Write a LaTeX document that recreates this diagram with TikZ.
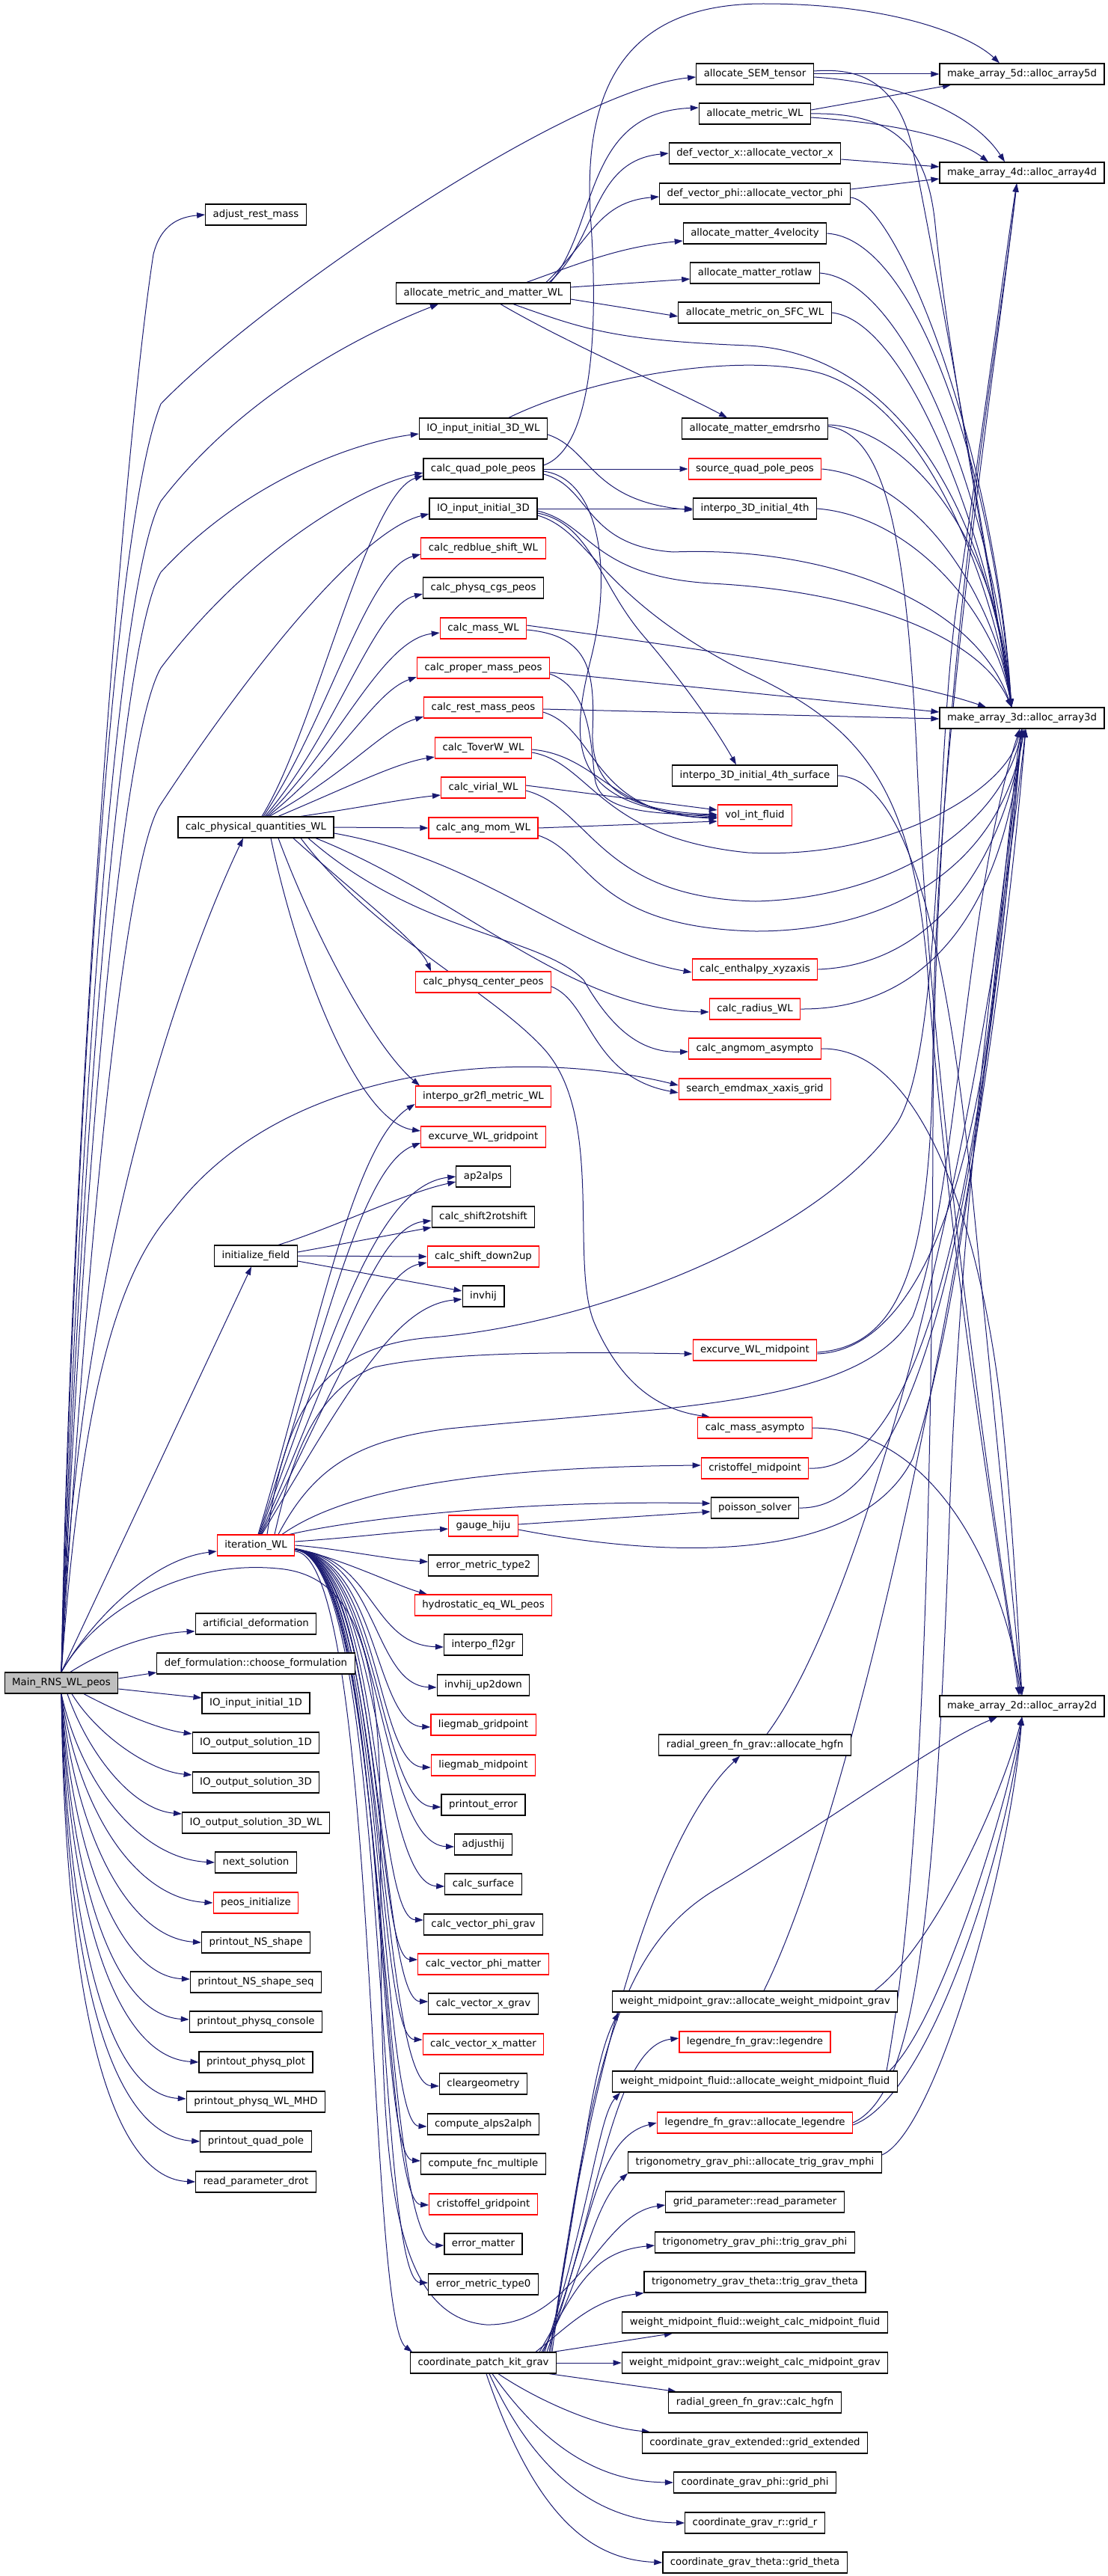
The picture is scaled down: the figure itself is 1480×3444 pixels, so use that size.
\documentclass[tikz,border=0pt]{standalone}
\usepackage{fontspec}
\newfontfamily\graphfont{DejaVu Sans}
\usepackage{tikz}
\usetikzlibrary{arrows.meta,backgrounds}
\definecolor{edgeblue}{RGB}{25,25,112}
\definecolor{mainfill}{RGB}{191,191,191}

\begin{document}
\begin{tikzpicture}[x=1pt, y=-1pt,
    fn/.style={draw=black, line width=1.2pt, fill=white, inner xsep=10pt, inner ysep=0pt,
      minimum height=28pt, text height=10pt, text depth=3pt,
      font=\graphfont\fontsize{13.3}{16}\selectfont},
    fnred/.style={fn, draw=red},
    call/.style={draw=edgeblue, line width=1pt, -{Triangle[length=11pt,width=7.5pt]}}]
    \useasboundingbox (0,0) rectangle (1480,3444);

    % Main program
    \node[fn, fill=mainfill] (main) at (82,2250) {Main\_RNS\_WL\_peos};

    % First level
    \node[fn] (adjrm) at (342,287) {adjust\_rest\_mass};
    \node[fn] (cpq) at (342,1106) {calc\_physical\_quantities\_WL};
    \node[fn] (inif) at (342,1679) {initialize\_field};
    \node[fnred] (itw) at (342,2066) {iteration\_WL};
    \node[fn] (artd) at (342,2171) {artificial\_deformation};
    \node[fn] (deff) at (342,2224) {def\_formulation::choose\_formulation};
    \node[fn] (ioi1) at (342,2277) {IO\_input\_initial\_1D};
    \node[fn] (ioo1) at (342,2330) {IO\_output\_solution\_1D};
    \node[fn] (ioo3) at (342,2383) {IO\_output\_solution\_3D};
    \node[fn] (ioo3w) at (342,2437) {IO\_output\_solution\_3D\_WL};
    \node[fn] (nsol) at (342,2490) {next\_solution};
    \node[fnred] (peosi) at (342,2544) {peos\_initialize};
    \node[fn] (pns) at (342,2597) {printout\_NS\_shape};
    \node[fn] (pnsseq) at (342,2650) {printout\_NS\_shape\_seq};
    \node[fn] (ppc) at (342,2703) {printout\_physq\_console};
    \node[fn] (ppp) at (342,2757) {printout\_physq\_plot};
    \node[fn] (ppmhd) at (342,2810) {printout\_physq\_WL\_MHD};
    \node[fn] (pqp) at (342,2863) {printout\_quad\_pole};
    \node[fn] (rpd) at (342,2917) {read\_parameter\_drot};

    % Second level
    \node[fn] (amm) at (646,392) {allocate\_metric\_and\_matter\_WL};
    \node[fn] (io3dwl) at (646,573) {IO\_input\_initial\_3D\_WL};
    \node[fn] (cqp) at (646,627) {calc\_quad\_pole\_peos};
    \node[fn] (io3d) at (646,680) {IO\_input\_initial\_3D};
    \node[fnred] (crb) at (646,733) {calc\_redblue\_shift\_WL};
    \node[fn] (cpcgs) at (646,786) {calc\_physq\_cgs\_peos};
    \node[fnred] (cmass) at (646,840) {calc\_mass\_WL};
    \node[fnred] (cpm) at (646,893) {calc\_proper\_mass\_peos};
    \node[fnred] (crm) at (646,946) {calc\_rest\_mass\_peos};
    \node[fnred] (ctw) at (646,1000) {calc\_ToverW\_WL};
    \node[fnred] (cvir) at (646,1053) {calc\_virial\_WL};
    \node[fnred] (cam) at (646,1107) {calc\_ang\_mom\_WL};
    \node[fnred] (cpc) at (646,1313) {calc\_physq\_center\_peos};
    \node[fnred] (igf) at (646,1466) {interpo\_gr2fl\_metric\_WL};
    \node[fnred] (exg) at (646,1520) {excurve\_WL\_gridpoint};
    \node[fn] (ap2) at (646,1573) {ap2alps};
    \node[fn] (css) at (646,1627) {calc\_shift2rotshift};
    \node[fnred] (csd) at (646,1680) {calc\_shift\_down2up};
    \node[fn] (invh) at (646,1733) {invhij};
    \node[fnred] (gauge) at (646,2040) {gauge\_hiju};
    \node[fn] (emt2) at (646,2093) {error\_metric\_type2};
    \node[fnred] (hyd) at (646,2146) {hydrostatic\_eq\_WL\_peos};
    \node[fn] (ifg) at (646,2199) {interpo\_fl2gr};
    \node[fn] (invud) at (646,2253) {invhij\_up2down};
    \node[fnred] (lgg) at (646,2306) {liegmab\_gridpoint};
    \node[fnred] (lgm) at (646,2360) {liegmab\_midpoint};
    \node[fn] (perr) at (646,2413) {printout\_error};
    \node[fn] (adjh) at (646,2466) {adjusthij};
    \node[fn] (csurf) at (646,2519) {calc\_surface};
    \node[fn] (cvpg) at (646,2573) {calc\_vector\_phi\_grav};
    \node[fnred] (cvpm) at (646,2626) {calc\_vector\_phi\_matter};
    \node[fn] (cvxg) at (646,2679) {calc\_vector\_x\_grav};
    \node[fnred] (cvxm) at (646,2733) {calc\_vector\_x\_matter};
    \node[fn] (clg) at (646,2786) {cleargeometry};
    \node[fn] (ca2a) at (646,2840) {compute\_alps2alph};
    \node[fn] (cfm) at (646,2893) {compute\_fnc\_multiple};
    \node[fnred] (crg) at (646,2947) {cristoffel\_gridpoint};
    \node[fn] (emat) at (646,3000) {error\_matter};
    \node[fn] (emt0) at (646,3054) {error\_metric\_type0};
    \node[fn] (cpk) at (646,3159) {coordinate\_patch\_kit\_grav};

    % Third level
    \node[fn] (sem) at (1009,99) {allocate\_SEM\_tensor};
    \node[fn] (amwl) at (1009,152) {allocate\_metric\_WL};
    \node[fn] (avx) at (1009,205) {def\_vector\_x::allocate\_vector\_x};
    \node[fn] (avp) at (1009,259) {def\_vector\_phi::allocate\_vector\_phi};
    \node[fn] (a4v) at (1009,312) {allocate\_matter\_4velocity};
    \node[fn] (arot) at (1009,365) {allocate\_matter\_rotlaw};
    \node[fn] (asfc) at (1009,418) {allocate\_metric\_on\_SFC\_WL};
    \node[fn] (aemd) at (1009,573) {allocate\_matter\_emdrsrho};
    \node[fnred] (sqp) at (1009,627) {source\_quad\_pole\_peos};
    \node[fn] (i3d4) at (1009,680) {interpo\_3D\_initial\_4th};
    \node[fn] (i3ds) at (1009,1037) {interpo\_3D\_initial\_4th\_surface};
    \node[fnred] (vif) at (1009,1090) {vol\_int\_fluid};
    \node[fnred] (centh) at (1009,1296) {calc\_enthalpy\_xyzaxis};
    \node[fnred] (crad) at (1009,1349) {calc\_radius\_WL};
    \node[fnred] (camasy) at (1009,1402) {calc\_angmom\_asympto};
    \node[fnred] (semx) at (1009,1456) {search\_emdmax\_xaxis\_grid};
    \node[fnred] (exm) at (1009,1805) {excurve\_WL\_midpoint};
    \node[fnred] (cmasy) at (1009,1909) {calc\_mass\_asympto};
    \node[fnred] (cmid) at (1009,1963) {cristoffel\_midpoint};
    \node[fn] (pois) at (1009,2016) {poisson\_solver};
    \node[fn] (ahgfn) at (1009,2333) {radial\_green\_fn\_grav::allocate\_hgfn};
    \node[fn] (awmg) at (1009,2676) {weight\_midpoint\_grav::allocate\_weight\_midpoint\_grav};
    \node[fnred] (leg) at (1009,2730) {legendre\_fn\_grav::legendre};
    \node[fn] (awmf) at (1009,2783) {weight\_midpoint\_fluid::allocate\_weight\_midpoint\_fluid};
    \node[fnred] (aleg) at (1009,2838) {legendre\_fn\_grav::allocate\_legendre};
    \node[fn] (atrig) at (1009,2891) {trigonometry\_grav\_phi::allocate\_trig\_grav\_mphi};
    \node[fn] (rpar) at (1009,2944) {grid\_parameter::read\_parameter};
    \node[fn] (tgp) at (1009,2998) {trigonometry\_grav\_phi::trig\_grav\_phi};
    \node[fn] (tgt) at (1009,3051) {trigonometry\_grav\_theta::trig\_grav\_theta};
    \node[fn] (wcmf) at (1009,3105) {weight\_midpoint\_fluid::weight\_calc\_midpoint\_fluid};
    \node[fn] (wcmg) at (1009,3159) {weight\_midpoint\_grav::weight\_calc\_midpoint\_grav};
    \node[fn] (chgfn) at (1009,3212) {radial\_green\_fn\_grav::calc\_hgfn};
    \node[fn] (gext) at (1009,3266) {coordinate\_grav\_extended::grid\_extended};
    \node[fn] (gphi) at (1009,3319) {coordinate\_grav\_phi::grid\_phi};
    \node[fn] (gr) at (1009,3373) {coordinate\_grav\_r::grid\_r};
    \node[fn] (gth) at (1009,3426) {coordinate\_grav\_theta::grid\_theta};

    % Array allocators
    \node[fn] (mk5) at (1366,99) {make\_array\_5d::alloc\_array5d};
    \node[fn] (mk4) at (1366,231) {make\_array\_4d::alloc\_array4d};
    \node[fn] (mk3) at (1366,960) {make\_array\_3d::alloc\_array3d};
    \node[fn] (mk2) at (1366,2281) {make\_array\_2d::alloc\_array2d};

    \begin{scope}[on background layer]
    % Calls from the main program
    \draw[call] (main.north) .. controls (95,1500) and (165,600) .. (205,340) .. controls (215,300) and (240,290) .. (adjrm.west);
    \draw[call] (main.north) .. controls (100,1500) and (150,700) .. (215,540) .. controls (350,400) and (760,120) .. ([yshift=-4pt]sem.west);
    \draw[call] (main.north) .. controls (105,1500) and (155,780) .. (215,670) .. controls (330,520) and (500,440) .. ([xshift=-60pt]amm.south);
    \draw[call] (main.north) .. controls (110,1500) and (160,860) .. (215,765) .. controls (330,640) and (480,590) .. ([yshift=-7pt]io3dwl.west);
    \draw[call] (main.north) .. controls (115,1500) and (165,980) .. (215,893) .. controls (330,740) and (480,650) .. ([yshift=-5pt]cqp.west);
    \draw[call] (main.north) .. controls (120,1600) and (170,1140) .. (215,1075) .. controls (330,900) and (480,710) .. ([yshift=-7pt]io3d.west);
    \draw[call] (main.north) .. controls (100,1700) and (240,1300) .. ([xshift=-17pt]cpq.south);
    \draw[call] (main.north) .. controls (110,1850) and (160,1700) .. (230,1620) .. controls (380,1420) and (700,1400) .. ([yshift=5pt]semx.west);
    \draw[call] (main.north) -- ([xshift=-6pt]inif.south);
    \draw[call] (main.north) .. controls (120,2170) and (200,2085) .. ([yshift=-8pt]itw.west);
    \draw[call] (main.north) .. controls (130,2150) and (250,2085) .. (371,2097) .. controls (470,2105) and (505,2200) .. (508,2400) .. controls (512,2800) and (495,3095) .. (650,3108) .. controls (770,3110) and (800,2960) .. ([yshift=-4pt]rpar.west);
    \draw[call] ([xshift=12pt]main.north) .. controls (150,2200) and (210,2183) .. ([yshift=-10pt]artd.west);
    \draw[call] ([yshift=6pt]main.east) -- ([yshift=-12pt]deff.west);
    \draw[call] ([yshift=-8pt]main.east) -- ([yshift=7pt]ioi1.west);
    \draw[call] ([xshift=30pt]main.south) .. controls (150,2285) and (210,2312) .. ([yshift=12pt]ioo1.west);
    \draw[call] ([xshift=14pt]main.south) .. controls (130,2320) and (200,2368) .. ([yshift=10pt]ioo3.west);
    \draw[call] ([xshift=8pt]main.south) .. controls (120,2350) and (180,2420) .. ([yshift=12pt]ioo3w.west);
    \draw[call] (main.south) .. controls (110,2390) and (190,2485) .. (nsol.west);
    \draw[call] (main.south) .. controls (105,2420) and (180,2538) .. (peosi.west);
    \draw[call] (main.south) .. controls (100,2450) and (170,2590) .. (pns.west);
    \draw[call] (main.south) .. controls (96,2480) and (160,2642) .. ([yshift=4pt]pnsseq.west);
    \draw[call] (main.south) .. controls (94,2510) and (150,2694) .. ([yshift=3pt]ppc.west);
    \draw[call] (main.south) .. controls (92,2540) and (150,2750) .. (ppp.west);
    \draw[call] (main.south) .. controls (90,2570) and (140,2800) .. ([yshift=4pt]ppmhd.west);
    \draw[call] (main.south) .. controls (88,2610) and (140,2855) .. (pqp.west);
    \draw[call] (main.south) .. controls (86,2650) and (140,2912) .. (rpd.west);

    % Physical quantities
    \draw[call] ([xshift=8pt]cpq.north) .. controls (420,980) and (490,660) .. ([yshift=-9pt]cqp.west);
    \draw[call] ([xshift=10pt]cpq.north) .. controls (440,960) and (490,760) .. ([yshift=-8pt]crb.west);
    \draw[call] ([xshift=12pt]cpq.north) .. controls (450,980) and (500,810) .. ([yshift=-8pt]cpcgs.west);
    \draw[call] ([xshift=14pt]cpq.north) .. controls (450,1000) and (510,855) .. ([yshift=-6pt]cmass.west);
    \draw[call] ([xshift=16pt]cpq.north) .. controls (460,1010) and (500,925) .. ([yshift=-12pt]cpm.west);
    \draw[call] ([xshift=18pt]cpq.north) .. controls (470,1030) and (510,975) .. ([yshift=-12pt]crm.west);
    \draw[call] ([xshift=30pt]cpq.north) .. controls (470,1050) and (530,1020) .. ([yshift=-12pt]ctw.west);
    \draw[call] ([xshift=60pt]cpq.north) .. controls (480,1080) and (540,1068) .. ([yshift=-10pt]cvir.west);
    \draw[call] (cpq.east) -- (cam.west);
    \draw[call] ([yshift=-8pt]cpq.east) .. controls (650,1150) and (760,1270) .. ([yshift=-4pt]centh.west);
    \draw[call] ([xshift=80pt]cpq.south) .. controls (620,1200) and (760,1350) .. ([yshift=-4pt]crad.west);
    \draw[call] ([xshift=70pt]cpq.south) .. controls (560,1250) and (720,1250) .. (780,1310) .. controls (820,1380) and (860,1408) .. ([yshift=-4pt]camasy.west);
    \draw[call] ([xshift=50pt]cpq.south) .. controls (480,1200) and (560,1260) .. ([xshift=-70pt]cpc.north);
    \draw[call] ([xshift=30pt]cpq.south) .. controls (420,1250) and (500,1400) .. ([xshift=-85pt]igf.north);
    \draw[call] ([xshift=20pt]cpq.south) .. controls (400,1300) and (480,1500) .. ([yshift=8pt]exg.west);
    \draw[call] ([xshift=60pt]cpq.south) .. controls (500,1250) and (650,1320) .. (725,1400) .. controls (810,1490) and (760,1690) .. (795,1770) .. controls (830,1850) and (880,1885) .. ([xshift=-60pt]cmasy.north);

    % Field initialisation
    \draw[call] ([xshift=30pt]inif.north) .. controls (450,1640) and (540,1595) .. ([yshift=-7pt]ap2.west);
    \draw[call] ([yshift=5pt]inif.east) -- ([yshift=-14pt]css.west);
    \draw[call] (inif.east) -- (csd.west);
    \draw[call] ([yshift=-7pt]inif.east) -- ([yshift=7pt]invh.west);

    % Iteration
    \draw[call] ([xshift=3pt]itw.north) .. controls (420,1800) and (470,1530) .. ([yshift=-10pt]igf.west);
    \draw[call] ([xshift=4pt]itw.north) .. controls (430,1800) and (480,1560) .. ([yshift=-8pt]exg.west);
    \draw[call] ([xshift=5pt]itw.north) .. controls (440,1800) and (500,1585) .. (ap2.west);
    \draw[call] ([xshift=6pt]itw.north) .. controls (450,1820) and (500,1640) .. ([yshift=-5pt]css.west);
    \draw[call] ([xshift=7pt]itw.north) .. controls (460,1830) and (510,1700) .. ([yshift=-8pt]csd.west);
    \draw[call] ([xshift=8pt]itw.north) .. controls (470,1850) and (530,1745) .. ([yshift=-4pt]invh.west);
    \draw[call] ([xshift=25pt]itw.north) .. controls (390,1950) and (420,1860) .. (500,1828) .. controls (600,1805) and (800,1808) .. ([yshift=-5pt]exm.west);
    \draw[call] ([xshift=15pt]itw.north) .. controls (380,1900) and (420,1800) .. (577,1788) .. controls (800,1770) and (1100,1650) .. (1200,1500) .. controls (1260,1400) and (1250,1000) .. (1280,800) .. controls (1310,600) and (1350,300) .. ([xshift=-7pt]mk4.south);
    \draw[call] ([xshift=30pt]itw.north) .. controls (420,1960) and (480,1925) .. (600,1910) .. controls (900,1880) and (1150,1880) .. (1220,1760) .. controls (1280,1600) and (1290,1200) .. ([xshift=-3pt]mk3.south);
    \draw[call] ([xshift=35pt]itw.north) .. controls (450,2000) and (600,1962) .. ([yshift=4pt]cmid.west);
    \draw[call] ([xshift=45pt]itw.north) .. controls (480,2030) and (700,2005) .. ([yshift=6pt]pois.west);
    \draw[call] ([yshift=5pt]itw.east) .. controls (480,2055) and (540,2047) .. ([yshift=-4pt]gauge.west);
    \draw[call] (itw.east) .. controls (450,2070) and (520,2085) .. ([yshift=5pt]emt2.west);
    \draw[call] ([yshift=-4pt]itw.east) .. controls (460,2085) and (530,2120) .. ([xshift=-75pt]hyd.north);
    \draw[call] ([yshift=-6pt]itw.east) .. controls (500,2080) and (495,2199) .. ([yshift=-3pt]ifg.west);
    \draw[call] ([yshift=-6pt]itw.east) .. controls (505,2080) and (498,2253) .. ([yshift=-3pt]invud.west);
    \draw[call] ([yshift=-6pt]itw.east) .. controls (505,2080) and (500,2306) .. ([yshift=-3pt]lgg.west);
    \draw[call] ([yshift=-6pt]itw.east) .. controls (508,2080) and (502,2360) .. ([yshift=-3pt]lgm.west);
    \draw[call] ([yshift=-6pt]itw.east) .. controls (508,2080) and (505,2413) .. ([yshift=-3pt]perr.west);
    \draw[call] ([yshift=-6pt]itw.east) .. controls (510,2080) and (505,2466) .. ([yshift=-3pt]adjh.west);
    \draw[call] ([yshift=-6pt]itw.east) .. controls (510,2080) and (505,2519) .. ([yshift=-3pt]csurf.west);
    \draw[call] ([yshift=-6pt]itw.east) .. controls (512,2080) and (500,2565) .. ([yshift=6pt]cvpg.west);
    \draw[call] ([yshift=-6pt]itw.east) .. controls (512,2080) and (500,2618) .. ([yshift=6pt]cvpm.west);
    \draw[call] ([yshift=-6pt]itw.east) .. controls (514,2080) and (505,2675) .. ([yshift=3pt]cvxg.west);
    \draw[call] ([yshift=-6pt]itw.east) .. controls (514,2080) and (500,2725) .. ([yshift=6pt]cvxm.west);
    \draw[call] ([yshift=-6pt]itw.east) .. controls (516,2080) and (505,2786) .. ([yshift=-3pt]clg.west);
    \draw[call] ([yshift=-6pt]itw.east) .. controls (516,2080) and (505,2840) .. ([yshift=-3pt]ca2a.west);
    \draw[call] ([yshift=-6pt]itw.east) .. controls (518,2080) and (500,2885) .. ([yshift=4pt]cfm.west);
    \draw[call] ([yshift=-6pt]itw.east) .. controls (518,2080) and (505,2945) .. ([yshift=-1pt]crg.west);
    \draw[call] ([yshift=-6pt]itw.east) .. controls (520,2080) and (505,3002) .. ([yshift=-2pt]emat.west);
    \draw[call] ([yshift=-6pt]itw.east) .. controls (520,2080) and (500,3050) .. ([yshift=2pt]emt0.west);
    \draw[call] ([yshift=-8pt]itw.east) .. controls (505,2080) and (490,3100) .. ([xshift=-95pt]cpk.north);

    % Grid set-up
    \draw[call] (cpk.east) -- (wcmg.west);
    \draw[call] ([xshift=-5pt]cpk.north east) -- ([xshift=-110pt]wcmf.south);
    \draw[call] ([xshift=-10pt]cpk.south east) -- ([xshift=-105pt]chgfn.north);
    \draw[call] ([xshift=20pt]cpk.south) .. controls (720,3210) and (800,3245) .. ([xshift=-140pt]gext.north);
    \draw[call] ([xshift=12pt]cpk.south) .. controls (740,3290) and (820,3318) .. (gphi.west);
    \draw[call] ([xshift=8pt]cpk.south) .. controls (730,3340) and (830,3372) .. (gr.west);
    \draw[call] ([xshift=4pt]cpk.south) .. controls (720,3380) and (800,3422) .. (gth.west);
    \draw[call] ([xshift=70pt]cpk.north) .. controls (760,3110) and (790,3075) .. (tgt.south west);
    \draw[call] ([xshift=75pt]cpk.north) .. controls (770,3060) and (790,3010) .. ([yshift=-4pt]tgp.west);
    \draw[call] ([xshift=78pt]cpk.north) .. controls (780,3050) and (790,2950) .. (atrig.south west);
    \draw[call] ([xshift=80pt]cpk.north) .. controls (790,3000) and (790,2860) .. (aleg.west);
    \draw[call] ([xshift=82pt]cpk.north) .. controls (790,2950) and (800,2830) .. ([xshift=-180pt]awmf.south);
    \draw[call] ([xshift=85pt]cpk.north) .. controls (800,2950) and (820,2735) .. ([yshift=5pt]leg.west);
    \draw[call] ([xshift=88pt]cpk.north) .. controls (780,2900) and (790,2760) .. ([xshift=-182pt]awmg.south);
    \draw[call] ([xshift=90pt]cpk.north) .. controls (790,2750) and (880,2450) .. ([xshift=-20pt]ahgfn.south);
    \draw[call] ([xshift=92pt]cpk.north) .. controls (790,2750) and (830,2600) .. (960,2524) .. controls (1100,2440) and (1250,2330) .. ([xshift=-33pt]mk2.south);

    % Allocation
    \draw[call] ([xshift=90pt]amm.north) .. controls (800,300) and (780,150) .. ([yshift=8pt]amwl.west);
    \draw[call] ([xshift=88pt]amm.north) .. controls (800,320) and (790,215) .. (avx.west);
    \draw[call] ([xshift=84pt]amm.north) .. controls (790,320) and (800,270) .. ([yshift=-4pt]avp.west);
    \draw[call] ([xshift=58pt]amm.north) .. controls (780,350) and (830,330) .. ([yshift=-10pt]a4v.west);
    \draw[call] ([yshift=8pt]amm.east) -- ([yshift=-8pt]arot.west);
    \draw[call] ([yshift=-8pt]amm.east) -- ([yshift=-5pt]asfc.west);
    \draw[call] ([xshift=23pt]amm.south) .. controls (760,460) and (900,520) .. ([xshift=-37pt]aemd.north);
    \draw[call] ([xshift=40pt]amm.south) .. controls (780,440) and (820,455) .. (1000,462) .. controls (1240,475) and (1330,760) .. ([xshift=-14pt]mk3.north);
    \draw[call] (sem.east) -- (mk5.west);
    \draw[call] ([yshift=-4pt]sem.east) .. controls (1200,110) and (1300,150) .. ([xshift=-23pt]mk4.north);
    \draw[call] ([yshift=4pt]sem.east) .. controls (1150,90) and (1200,110) .. (1220,200) .. controls (1260,400) and (1330,800) .. ([xshift=-14pt]mk3.north);
    \draw[call] ([yshift=5pt]amwl.east) -- ([xshift=-95pt]mk5.south);
    \draw[call] ([yshift=-5pt]amwl.east) .. controls (1200,165) and (1280,185) .. ([xshift=-45pt]mk4.north);
    \draw[call] (amwl.east) .. controls (1200,150) and (1240,200) .. (1250,300) .. controls (1270,500) and (1330,800) .. ([xshift=-14pt]mk3.north);
    \draw[call] ([yshift=-8pt]avx.east) -- ([yshift=8pt]mk4.west);
    \draw[call] ([yshift=6pt]avp.east) -- ([yshift=-8pt]mk4.west);
    \draw[call] ([yshift=-5pt]avp.east) .. controls (1200,270) and (1330,600) .. ([xshift=-14pt]mk3.north);
    \draw[call] (a4v.east) .. controls (1230,320) and (1330,650) .. ([xshift=-14pt]mk3.north);
    \draw[call] (arot.east) .. controls (1220,375) and (1330,700) .. ([xshift=-14pt]mk3.north);
    \draw[call] (asfc.east) .. controls (1220,430) and (1330,750) .. ([xshift=-14pt]mk3.north);
    \draw[call] ([yshift=5pt]aemd.east) .. controls (1200,570) and (1330,700) .. ([xshift=-14pt]mk3.north);
    \draw[call] ([yshift=3pt]aemd.east) .. controls (1180,580) and (1210,700) .. (1225,1000) .. controls (1245,1500) and (1340,2100) .. ([xshift=-2pt]mk2.north);

    % Initial data and quadrupole
    \draw[call] ([xshift=34pt]io3dwl.north) .. controls (800,500) and (1000,470) .. (1100,500) .. controls (1250,550) and (1330,800) .. ([xshift=-14pt]mk3.north);
    \draw[call] ([yshift=-8pt]io3dwl.east) .. controls (790,600) and (790,670) .. ([yshift=-2pt]i3d4.west);
    \draw[call] ([yshift=5pt]cqp.east) .. controls (790,600) and (800,450) .. (790,300) .. controls (775,100) and (850,5) .. (1020,5) .. controls (1200,5) and (1300,50) .. ([xshift=-30pt]mk5.north);
    \draw[call] (cqp.east) -- (sqp.west);
    \draw[call] ([yshift=-3pt]cqp.east) .. controls (800,640) and (820,760) .. (790,880) .. controls (760,1000) and (760,1080) .. ([yshift=-2pt]vif.west);
    \draw[call] ([yshift=-7pt]cqp.east) .. controls (790,650) and (780,730) .. (900,738) .. controls (1100,730) and (1300,800) .. ([xshift=-14pt]mk3.north);
    \draw[call] (io3d.east) -- (i3d4.west);
    \draw[call] ([yshift=-3pt]io3d.east) .. controls (790,700) and (790,770) .. (950,780) .. controls (1150,790) and (1310,850) .. ([xshift=-14pt]mk3.north);
    \draw[call] ([yshift=-6pt]io3d.east) .. controls (790,700) and (800,780) .. (860,850) .. controls (920,920) and (960,980) .. ([xshift=-25pt]i3ds.north);
    \draw[call] ([yshift=-9pt]io3d.east) .. controls (790,710) and (800,800) .. (1000,900) .. controls (1150,970) and (1220,1050) .. (1240,1300) .. controls (1270,1700) and (1340,2100) .. ([xshift=-4pt]mk2.north);
    \draw[call] (sqp.east) .. controls (1230,640) and (1330,800) .. ([xshift=-14pt]mk3.north);
    \draw[call] (i3d4.east) .. controls (1220,690) and (1330,820) .. ([xshift=-14pt]mk3.north);
    \draw[call] (i3ds.east) .. controls (1200,1040) and (1260,1200) .. (1300,1600) .. controls (1330,1900) and (1355,2150) .. (mk2.north);

    % Integrals
    \draw[call] ([yshift=4pt]cmass.east) .. controls (950,870) and (1200,905) .. ([xshift=-48pt]mk3.north);
    \draw[call] ([yshift=-2pt]cmass.east) .. controls (790,850) and (795,900) .. (792,980) .. controls (790,1060) and (850,1085) .. ([yshift=1pt]vif.west);
    \draw[call] ([yshift=-6pt]cpm.east) -- ([yshift=8pt]mk3.west);
    \draw[call] ([yshift=-8pt]cpm.east) .. controls (790,920) and (790,1000) .. (795,1040) .. controls (800,1080) and (850,1088) .. (vif.west);
    \draw[call] ([yshift=-2pt]crm.east) -- ([yshift=-1pt]mk3.west);
    \draw[call] ([yshift=-6pt]crm.east) .. controls (800,975) and (790,1090) .. ([yshift=-3pt]vif.west);
    \draw[call] ([yshift=-2pt]ctw.east) .. controls (800,1010) and (820,1090) .. ([yshift=-4pt]vif.west);
    \draw[call] ([yshift=-6pt]ctw.east) .. controls (790,1020) and (800,1120) .. (1000,1140) .. controls (1200,1150) and (1350,1050) .. ([xshift=-3pt]mk3.south);
    \draw[call] ([yshift=3pt]cvir.east) -- ([yshift=7pt]vif.west);
    \draw[call] ([yshift=-4pt]cvir.east) .. controls (790,1080) and (800,1200) .. (1010,1205) .. controls (1200,1200) and (1340,1100) .. (mk3.south);
    \draw[call] (cam.east) -- ([yshift=-8pt]vif.west);
    \draw[call] ([yshift=-10pt]cam.east) .. controls (790,1140) and (790,1240) .. (1010,1245) .. controls (1200,1245) and (1340,1150) .. ([xshift=3pt]mk3.south);
    \draw[call] (centh.east) .. controls (1250,1290) and (1340,1150) .. ([xshift=3pt]mk3.south);
    \draw[call] (crad.east) .. controls (1250,1350) and (1345,1200) .. (mk3.south);
    \draw[call] (camasy.east) .. controls (1250,1400) and (1320,1700) .. (1340,1900) .. controls (1355,2050) and (1362,2200) .. (mk2.north);
    \draw[call] ([yshift=-6pt]cpc.east) .. controls (790,1340) and (790,1440) .. ([yshift=-5pt]semx.west);
    \draw[call] (cmasy.east) .. controls (1250,1910) and (1340,2100) .. (mk2.north);

    % Midpoint quantities and solver
    \draw[call] ([yshift=-3pt]exm.east) .. controls (1200,1800) and (1245,1700) .. (1247,1400) .. controls (1250,1000) and (1330,500) .. ([xshift=-7pt]mk4.south);
    \draw[call] ([yshift=-5pt]exm.east) .. controls (1220,1805) and (1300,1600) .. (1330,1300) .. controls (1350,1100) and (1360,1000) .. (mk3.south);
    \draw[call] (cmid.east) .. controls (1250,1970) and (1320,1500) .. (mk3.south);
    \draw[call] (pois.east) .. controls (1250,2020) and (1320,1500) .. (mk3.south);
    \draw[call] ([yshift=2pt]gauge.east) -- ([yshift=-5pt]pois.west);
    \draw[call] ([yshift=-5pt]gauge.east) .. controls (900,2085) and (1150,2090) .. (1220,1950) .. controls (1300,1700) and (1340,1200) .. (mk3.south);

    % Grid allocation
    \draw[call] ([xshift=16pt]ahgfn.north) .. controls (1150,2150) and (1300,1600) .. ([xshift=5pt]mk3.south);
    \draw[call] ([xshift=12pt]awmg.north) .. controls (1150,2400) and (1320,1600) .. ([xshift=5pt]mk3.south);
    \draw[call] ([xshift=160pt]awmg.north) .. controls (1250,2600) and (1340,2400) .. (mk2.south);
    \draw[call] ([xshift=176pt]awmf.north) .. controls (1215,2600) and (1245,2300) .. (1247,1500) .. controls (1250,900) and (1330,500) .. ([xshift=-7pt]mk4.south);
    \draw[call] ([xshift=180pt]awmf.north) .. controls (1260,2700) and (1350,2400) .. (mk2.south);
    \draw[call] ([yshift=-3pt]aleg.east) .. controls (1250,2800) and (1350,2450) .. (mk2.south);
    \draw[call] (aleg.east) .. controls (1220,2800) and (1250,2600) .. (1270,2000) .. controls (1290,1500) and (1355,1100) .. (mk3.south);
    \draw[call] ([yshift=10pt]atrig.east) .. controls (1250,2850) and (1350,2500) .. (mk2.south);
    \end{scope}
\end{tikzpicture}
\end{document}
